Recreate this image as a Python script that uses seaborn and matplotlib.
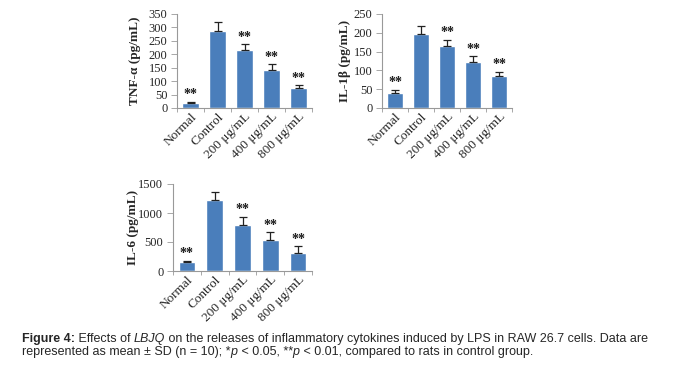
import numpy as np
import pandas as pd
import matplotlib
matplotlib.use("Agg")
import matplotlib.pyplot as plt
import matplotlib.transforms as mtransforms
import seaborn as sns

# ------------------------------------------------------------------ #
# Data
# ------------------------------------------------------------------ #
groups = ["Normal", "Control", "200 μg/mL", "400 μg/mL", "800 μg/mL"]

tnf_mean = [20, 288, 217, 142, 73]
tnf_sd = [4, 32, 20, 20, 12]

il1b_mean = [41, 196, 165, 122, 86]
il1b_sd = [7, 22, 17, 15, 10]

il6_mean = [155, 1220, 800, 540, 315]
il6_sd = [20, 135, 135, 125, 110]

stars = ["**", "", "**", "**", "**"]

BAR = "#4a7ebb"
SERIF = "Liberation Serif"
SANS = "Liberation Sans"

sns.set_theme(style="white")
plt.rcParams["font.family"] = [SERIF, "DejaVu Serif"]

W, H = 685, 368
fig = plt.figure(figsize=(W / 100, H / 100), dpi=100)


def rect(x0, y0, x1, y1):
    return [x0 / W, 1 - y1 / H, (x1 - x0) / W, (y1 - y0) / H]


def panel(box, means, sds, ylabel, label_x, ymax, step, star_pad):
    ax = fig.add_axes(rect(*box))
    df = pd.DataFrame({"group": groups, "value": means})
    sns.barplot(data=df, x="group", y="value", color=BAR, saturation=1,
                width=0.6, errorbar=None, ax=ax)
    xs = [p.get_x() + p.get_width() / 2 for p in ax.patches]
    ax.errorbar(xs, means, yerr=[np.zeros(len(sds)), sds], fmt="none",
                ecolor="#222222", elinewidth=0.9, capsize=3, capthick=0.9)
    for x, m, s, st in zip(xs, means, sds, stars):
        if st:
            ax.text(x, m + s + star_pad, st, ha="center", va="bottom",
                    fontsize=10, fontweight="bold", color="#1a1a1a")
    ax.set_ylim(0, ymax)
    ax.set_yticks(np.arange(0, ymax + 1, step))
    ax.set_xlim(-0.5, len(groups) - 0.5)
    ax.set_xticks(np.arange(-0.5, len(groups), 1), minor=True)
    ax.set_xlabel("")
    ax.set_ylabel(ylabel, fontsize=9.5, fontweight="bold")
    # label centre sits at label_x pixels from the figure's left edge
    blend = mtransforms.blended_transform_factory(fig.transFigure,
                                                  ax.transAxes)
    ax.yaxis.set_label_coords((label_x + 8) / W, 0.5, transform=blend)
    ax.tick_params(axis="y", labelsize=9, length=4, width=0.6, pad=3,
                   left=True, color="#999999")
    ax.tick_params(axis="x", which="major", labelsize=9.5, length=0, pad=2)
    ax.tick_params(axis="x", which="minor", length=3, width=0.6,
                   bottom=True, color="#999999")
    plt.setp(ax.get_xticklabels(), rotation=45, ha="right",
             rotation_mode="anchor")
    for side in ["top", "right"]:
        ax.spines[side].set_visible(False)
    for side in ["left", "bottom"]:
        ax.spines[side].set_color("#999999")
        ax.spines[side].set_linewidth(0.8)
    return ax


panel((177, 14, 312, 108), tnf_mean, tnf_sd, "TNF-α (pg/mL)", 133,
      350, 50, 2)
panel((382, 14, 512, 108), il1b_mean, il1b_sd, "IL-1β (pg/mL)", 343,
      250, 50, 2)
panel((173, 184, 312, 271), il6_mean, il6_sd, "IL-6 (pg/mL)", 131,
      1500, 500, 10)

# caption, written piece by piece so that bold / italic runs line up
caption = [
    [("Figure 4:", "bold", "normal"),
     (" Effects of ", "normal", "normal"),
     ("LBJQ", "normal", "italic"),
     (" on the releases of inflammatory cytokines induced by LPS in "
      "RAW 26.7 cells. Data are", "normal", "normal")],
    [("represented as mean ± SD (n = 10); *", "normal", "normal"),
     ("p", "normal", "italic"),
     (" < 0.05, **", "normal", "normal"),
     ("p", "normal", "italic"),
     (" < 0.01, compared to rats in control group.", "normal", "normal")],
]
renderer = fig.canvas.get_renderer()
for row, y in zip(caption, [339, 352]):
    x = 22
    for txt, weight, style in row:
        t = fig.text(x / W, 1 - y / H, txt, fontsize=9, family=SANS,
                     fontweight=weight, fontstyle=style,
                     va="center", ha="left")
        x += t.get_window_extent(renderer).width

fig.savefig("out.png", dpi=100)
